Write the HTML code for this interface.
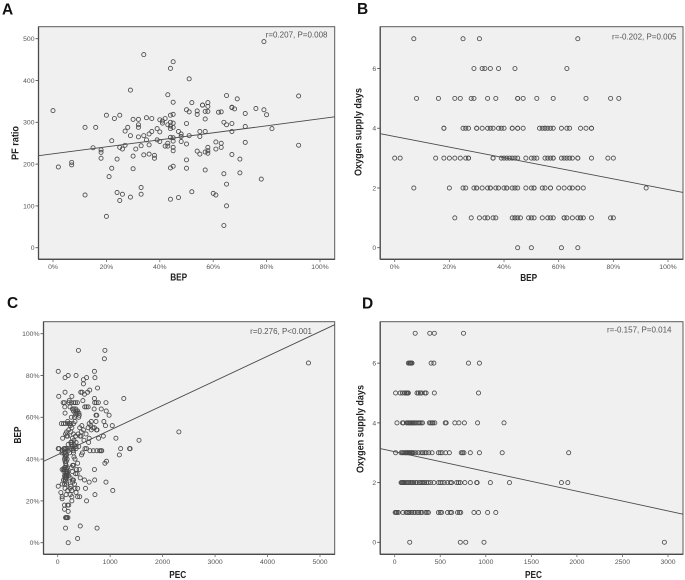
<!DOCTYPE html>
<html lang="en">
<head>
<meta charset="utf-8">
<title>Correlation scatter plots</title>
<style>
html,body{margin:0;padding:0;background:#fff;width:685px;height:580px;overflow:hidden}
svg{display:block;font-family:"Liberation Sans",sans-serif}
</style>
</head>
<body>
<svg id="figure" width="685" height="580" viewBox="0 0 685 580" xmlns="http://www.w3.org/2000/svg" style="filter:blur(0.35px)"></svg>
<script>
// Panel A: BEP (%) against PF ratio
const aBep=[0,2,7,7,12,12,15,16,18,18,18,20,20,21,22,22,23,24,24,25,25,25,26,26,27,27,28,29,29,29,30,30,30,31,32,32,32,32,33,33,33,34,34,34,35,35,36,36,36,37,37,38,38,39,39,40,40,40,41,41,42,42,43,43,43,43,44,44,44,44,44,44,44,44,45,45,45,45,45,45,45,45,45,45,47,47,48,48,48,50,50,50,50,50,51,51,51,52,52,54,54,54,55,55,55,56,56,57,57,57,57,57,58,58,58,58,58,58,60,61,61,61,62,63,63,63,64,64,64,65,65,65,65,67,67,67,67,67,68,69,70,70,72,72,72,76,78,79,79,80,82,92,92];
const aPf=[328,193,204,198,288,126,239,288,234,228,214,317,75,170,256,190,309,212,132,317,240,113,236,128,279,245,288,268,121,377,307,219,189,236,307,294,265,288,244,144,128,462,268,222,311,258,272,246,224,309,278,221,214,285,258,306,277,254,303,298,309,243,366,294,250,243,429,317,300,291,285,264,191,116,445,348,319,298,288,263,255,240,232,195,278,120,272,266,254,330,297,248,210,190,404,325,268,347,134,327,319,231,278,266,224,341,341,326,308,278,229,186,347,338,326,240,232,226,130,253,236,126,324,325,250,240,300,177,53,364,294,152,100,336,335,297,278,223,332,356,212,179,321,290,252,333,164,493,330,318,285,363,245];
const aFit=[224.6,0.838];
const aXTicks=[0,20,40,60,80,100];
const aYTicks=[0,100,200,300,400,500];

// Panel B: BEP (%) grouped by oxygen supply days
const bDays0=[45,50,61,67];
const bDays1=[22,28,31,33,34,36,37,43,44,44,45,46,49,50,51,54,56,57,58,62,62,63,65,67,68,68,69,72,79,80];
const bDays2=[7,20,25,26,29,30,30,32,34,35,35,37,38,40,41,41,43,44,45,48,50,51,51,54,55,57,57,60,62,64,65,67,67,69,92];
const bDays3=[0,2,15,18,20,22,24,26,27,27,36,36,39,40,41,42,43,44,45,48,50,51,52,55,56,57,58,58,61,62,63,64,65,67,67,72,78,80];
const bDays4=[18,18,25,26,27,30,30,32,34,35,36,38,39,40,43,43,45,45,47,53,54,55,55,56,57,58,61,63,64,68,70,72,72];
const bDays5=[8,16,22,24,28,29,34,37,45,45,47,52,58,70,79,82];
const bDays6=[29,32,33,35,38,44,63];
const bDays7=[7,25,31,67];
const bFit=[3.724,-0.01775];
const bXTicks=[0,20,40,60,80,100];
const bYTicks=[0,2,4,6];

// Panel C: BEP levels (%) and the PEC values observed at each level
const cBepLevels=[0,2,7,8,12,15,16,18,20,21,22,23,24,25,26,27,28,29,30,31,32,33,34,35,36,37,38,39,40,41,42,43,44,45,46,47,48,49,50,51,52,53,54,55,56,57,58,60,61,62,63,64,65,67,68,69,70,71,72,73,74,76,78,79,80,82,86,88,92];
const cPecByLevel=[[200],[380],[150,750],[430],[150,165,175,195],[200],[130],[130,190,210],[270,550],[85],[85,270,380,420],[160,240,710],[60,350],[190,270,1050],[140,235,330,380,530],[10,250],[85,130,170,320],[175,285,600,920],[110,140,150,280,300,510,705],[140,160,240,430],[130,150,165,180,210],[165,175,185,340,370],[120,150,170,190,280],[85,110,130,170,360,410,700],[130,145,180,260],[160,285,300],[150,380,900],[140,165,930],[130,180,330],[140,160,310],[140,170,455,1175],[80,120,150,225,300,470],[90,200,300,615,680,745,800,825,840],[10,25,120,130,150,175,260,300,350,520,550,1200,1370,1380],[280,350,400],[200,260,310],[250,270,350,590],[310,500,1550],[95,280,600,780,1110],[170,190,340,425,445,870],[150,300,390,540],[170,250,450,2310],[210,490,640,740,750],[270,420,580,670,700],[240,460,630,910,1040],[70,110,150,200,230,250,300,600],[190,330,640,730,880],[260,320,400],[350,410,730,745,980],[140,330,370,405],[300,350,380,925],[280,310,345,695,830],[135,235,515,545,580],[105,130,215,260,310,340,375,705,735,775,920],[220,480],[700,1260],[20,270],[510],[140,440,465,570],[610],[760],[490],[490],[140,550,710],[200,350],[10,700],[4780],[890],[395,900]];
const cFit=[42.1,0.01178];
const cXTicks=[0,1000,2000,3000,4000,5000];
const cYTicks=[0,20,40,60,80,100];

// Panel D: PEC grouped by oxygen supply days
const dDays0=[165,720,780,980,2960];
const dDays1=[5,15,25,40,90,125,140,155,170,190,210,225,250,265,285,300,340,355,370,480,500,515,580,610,625,690,710,725,870,920,1020,1110];
const dDays2=[70,80,90,100,110,125,140,155,170,180,195,210,230,245,270,285,300,315,330,350,370,395,430,480,500,520,545,580,610,625,680,700,720,770,830,900,905,1050,1260,1830,1900];
const dDays3=[10,70,85,100,115,125,135,145,155,165,175,185,195,205,230,260,290,310,330,345,375,410,480,500,520,560,600,730,745,760,830,930,1180,1910];
const dDays4=[25,85,95,130,145,155,165,175,185,195,205,215,230,245,260,275,290,305,380,395,410,420,440,555,565,660,705,765,910,1200];
const dDays5=[10,60,85,110,125,135,145,150,245,260,280,295,330,345,435,920];
const dDays6=[150,160,170,175,185,190,400,430,810,930];
const dDays7=[225,385,435,755];
const dFit=[3.034,-0.000661];
const dXTicks=[0,500,1000,1500,2000,2500,3000];
const dYTicks=[0,2,4,6];

const svg=document.getElementById('figure');
const NS='http://www.w3.org/2000/svg';

function make(parent,tag,attrs,text){
  const e=document.createElementNS(NS,tag);
  for(const k in attrs)e.setAttribute(k,attrs[k]);
  if(text!==undefined)e.textContent=text;
  parent.appendChild(e);
  return e;
}

function drawPanel(p){
  const g=make(svg,'g',{});
  
  

  const sx=v=>p.x0+(v-p.xMin)*(p.x1-p.x0)/(p.xMax-p.xMin);
  const sy=v=>p.y0+(v-p.yMin)*(p.y1-p.y0)/(p.yMax-p.yMin);
  const clipId='clip-'+p.id;
  const defs=make(g,'defs',{});
  const cp=make(defs,'clipPath',{id:clipId});
  make(cp,'rect',{x:p.left,y:p.top,width:p.right-p.left,height:p.bottom-p.top});

  const letter=make(g,'text',{x:p.lx,y:p.ly,'font-size':15.5,'font-weight':'bold',fill:'#111'},p.id);
  
  

  const bg=make(g,'rect',{x:p.left,y:p.top,width:p.right-p.left,height:p.bottom-p.top,fill:'#f0f0f0',stroke:'#5a5a5a','stroke-width':1});
  
  

  const xAxis=make(g,'line',{x1:p.left,x2:p.right,y1:p.bottom,y2:p.bottom,stroke:'#4a4a4a','stroke-width':1.3});
  
  
  const yAxis=make(g,'line',{x1:p.left,x2:p.left,y1:p.top,y2:p.bottom,stroke:'#4a4a4a','stroke-width':1.3});
  
  

  p.xTicks.forEach(t=>{
    const tick=make(g,'line',{x1:sx(t),x2:sx(t),y1:p.bottom,y2:p.bottom+2.8,stroke:'#666','stroke-width':0.8});
    
    
    const lab=make(g,'text',{x:sx(t),y:p.bottom+9.5,'font-size':6.8,'text-anchor':'middle',fill:'#555'},t+p.xSuffix);
    
    
  });
  p.yTicks.forEach(t=>{
    const tick=make(g,'line',{x1:p.left-3,x2:p.left,y1:sy(t),y2:sy(t),stroke:'#555','stroke-width':0.9});
    
    
    const lab=make(g,'text',{x:p.left-4,y:sy(t)+2.4,'font-size':6.8,'text-anchor':'end',fill:'#555'},t+p.ySuffix);
    
    
  });

  const marks=make(g,'g',{fill:'none',stroke:'#4a4a4a','stroke-width':0.85});
  
  
  for(let i=0;i<p.xs.length;i++){
    const c=make(marks,'circle',{cx:sx(p.xs[i]),cy:sy(p.ys[i]),r:2.05});
    
    
  }

  const xa=p.xMin+(p.left-p.x0)*(p.xMax-p.xMin)/(p.x1-p.x0);
  const xb=p.xMin+(p.right-p.x0)*(p.xMax-p.xMin)/(p.x1-p.x0);
  const fit=make(g,'line',{x1:sx(xa),y1:sy(p.fit[0]+p.fit[1]*xa),x2:sx(xb),y2:sy(p.fit[0]+p.fit[1]*xb),stroke:'#4a4a4a','stroke-width':0.9,'clip-path':'url(#'+clipId+')'});
  
  

  const note=make(g,'text',{x:p.noteX,y:p.noteY,'font-size':8,'text-anchor':'end',fill:'#555'},p.note);
  
  

  const xt=make(g,'text',{x:p.xtx,y:p.xty,'font-size':10.5,'font-weight':'bold','text-anchor':'middle',fill:'#222',textLength:p.xtLen,lengthAdjust:'spacingAndGlyphs'},p.xTitle);
  
  
  const yt=make(g,'text',{x:0,y:0,'font-size':10.5,'font-weight':'bold','text-anchor':'middle',fill:'#222',textLength:p.ytLen,lengthAdjust:'spacingAndGlyphs',transform:'translate('+p.ytx+','+p.yty+') rotate(-90)'},p.yTitle);
  
  
}

function flatten(rows){
  const xs=[],ys=[];
  rows.forEach((row,day)=>row.forEach(v=>{xs.push(v);ys.push(day);}));
  return [xs,ys];
}
const bFlat=flatten([bDays0,bDays1,bDays2,bDays3,bDays4,bDays5,bDays6,bDays7]);
const dFlat=flatten([dDays0,dDays1,dDays2,dDays3,dDays4,dDays5,dDays6,dDays7]);
const cXs=[],cYs=[];
cPecByLevel.forEach((row,i)=>row.forEach(v=>{cXs.push(v);cYs.push(cBepLevels[i]);}));

drawPanel({id:'A',lx:2,ly:14.7,left:38.5,right:334.7,top:26.7,bottom:259.3,
  xMin:0,xMax:100,x0:53,x1:320,yMin:0,yMax:500,y0:247.7,y1:38.7,
  xs:aBep,ys:aPf,fit:aFit,xTicks:aXTicks,yTicks:aYTicks,xSuffix:'%',ySuffix:'',
  note:'r=0.207, P=0.008',noteX:327.5,noteY:37.6,
  xTitle:'BEP',xtx:178.7,xty:280.5,xtLen:17,yTitle:'PF ratio',ytx:18.5,yty:143,ytLen:34});
drawPanel({id:'B',lx:357,ly:14,left:380.2,right:683,top:26.7,bottom:259.3,
  xMin:0,xMax:100,x0:394.7,x1:668,yMin:0,yMax:7,y0:247.7,y1:38.7,
  xs:bFlat[0],ys:bFlat[1],fit:bFit,xTicks:bXTicks,yTicks:bYTicks,xSuffix:'%',ySuffix:'',
  note:'r=-0.202, P=0.005',noteX:676.5,noteY:39.5,
  xTitle:'BEP',xtx:528.7,xty:281,xtLen:17,yTitle:'Oxygen supply days',ytx:361.5,yty:132,ytLen:88});
drawPanel({id:'C',lx:7,ly:308,left:43.5,right:334.7,top:321.7,bottom:554.3,
  xMin:0,xMax:5000,x0:57.7,x1:320,yMin:0,yMax:100,y0:542.7,y1:333.7,
  xs:cXs,ys:cYs,fit:cFit,xTicks:cXTicks,yTicks:cYTicks,xSuffix:'',ySuffix:'%',
  note:'r=0.276, P<0.001',noteX:312,noteY:334,
  xTitle:'PEC',xtx:177.7,xty:578,xtLen:17,yTitle:'BEP',ytx:21,yty:435,ytLen:17});
drawPanel({id:'D',lx:362,ly:308.7,left:380.2,right:683,top:321.7,bottom:554.3,
  xMin:0,xMax:3000,x0:394.7,x1:668,yMin:0,yMax:7,y0:542.3,y1:333.3,
  xs:dFlat[0],ys:dFlat[1],fit:dFit,xTicks:dXTicks,yTicks:dYTicks,xSuffix:'',ySuffix:'',
  note:'r=-0.157, P=0.014',noteX:671.5,noteY:332.5,
  xTitle:'PEC',xtx:533.5,xty:578,xtLen:17,yTitle:'Oxygen supply days',ytx:363.5,yty:429,ytLen:88});
</script>
</body>
</html>
